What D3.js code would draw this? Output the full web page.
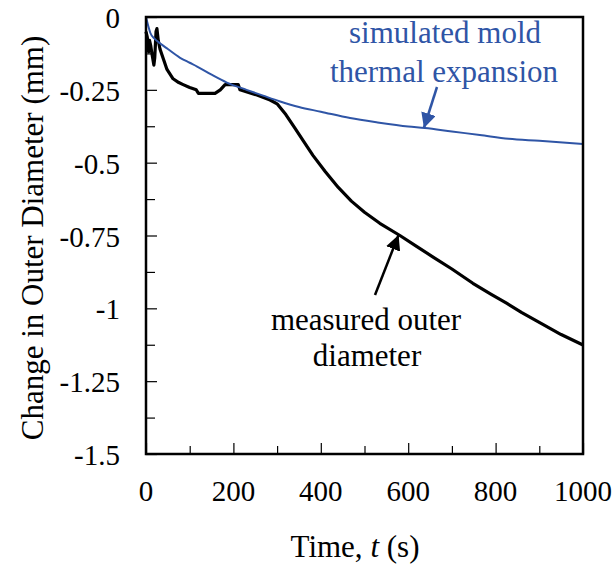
<!DOCTYPE html>
<html>
<head>
<meta charset="utf-8">
<script src="https://cdnjs.cloudflare.com/ajax/libs/d3/7.8.5/d3.min.js"></script>
<style>
  body { margin: 0; background: white; }
  svg text, svg tspan { font-family: "Liberation Serif", "Times New Roman", serif !important; }
</style>
</head>
<body>
<div id="chart"></div>
<script>

// measured outer diameter (black)
var measTime = [0, 3, 6, 8, 11, 14, 18, 20, 23, 25, 28, 32, 40, 48, 62, 75, 85, 100, 115, 120, 158, 170, 181, 211, 215, 254, 284, 300, 320, 340, 360, 382, 410, 440, 470, 500, 535, 581, 620, 657, 700, 748, 790, 826, 860, 902, 950, 1000]
var measVals = [-0.05, -0.07, -0.12, -0.08, -0.10, -0.13, -0.165, -0.14, -0.05, -0.04, -0.08, -0.11, -0.145, -0.18, -0.212, -0.225, -0.232, -0.242, -0.25, -0.262, -0.262, -0.25, -0.232, -0.232, -0.25, -0.268, -0.285, -0.298, -0.335, -0.38, -0.425, -0.475, -0.53, -0.585, -0.632, -0.67, -0.708, -0.75, -0.788, -0.824, -0.865, -0.914, -0.952, -0.983, -1.015, -1.05, -1.09, -1.126]

// simulated mold thermal expansion (blue)
var simTime = [0, 5, 10, 20, 32, 50, 78, 100, 117, 150, 185, 230, 268, 307, 350, 400, 467, 530, 600, 638, 700, 764, 830, 900, 1000]
var simVals = [0, -0.03, -0.055, -0.075, -0.09, -0.11, -0.14, -0.157, -0.17, -0.198, -0.225, -0.25, -0.27, -0.29, -0.309, -0.325, -0.347, -0.362, -0.376, -0.381, -0.393, -0.405, -0.418, -0.425, -0.436]

var xTicks = [0, 200, 400, 600, 800, 1000]
var yTicks = [0, -0.25, -0.5, -0.75, -1, -1.25, -1.5]
var yTickLabels = ["0", "-0.25", "-0.5", "-0.75", "-1", "-1.25", "-1.5"]

var margin = {top: 17, right: 33, bottom: 119, left: 146},
  width = 616 - margin.left - margin.right,
  height = 573 - margin.top - margin.bottom;

var blue = "#2f55a6";
var serif = "'Liberation Serif'";

var svg = d3.select("#chart").append("svg")
            .attr("width", 616).attr("height", 573)
          .append("g")
            .attr("transform", "translate(" + margin.left + "," + margin.top + ")");

var x = d3.scaleLinear().domain([0, 1000]).range([0, width]);
var y = d3.scaleLinear().domain([-1.5, 0]).range([height, 0]);

// minor ticks (inward)
svg.append("g")
   .attr("transform", "translate(0," + height + ")")
   .call(d3.axisTop(x).tickValues(d3.range(100, 1000, 200)).tickSize(8).tickFormat(""))
   .call(function(g) { g.select(".domain").remove() })
   .selectAll("line").attr("stroke-width", 1.2);

svg.append("g")
   .call(d3.axisRight(y).tickValues(d3.range(-1.375, 0, 0.25)).tickSize(9).tickFormat(""))
   .call(function(g) { g.select(".domain").remove() })
   .selectAll("line").attr("stroke-width", 1.2);

// major ticks
var xAxis = svg.append("g")
   .attr("transform", "translate(0," + height + ")")
   .call(d3.axisTop(x).tickValues(xTicks).tickSize(11).tickFormat(""));
xAxis.select(".domain").remove();
xAxis.selectAll("line").attr("stroke-width", 1.2);

var yAxis = svg.append("g")
   .call(d3.axisRight(y).tickValues(yTicks).tickSize(11).tickFormat(""));
yAxis.select(".domain").remove();
yAxis.selectAll("line").attr("stroke-width", 1.2);

// tick labels
svg.selectAll(".xlab")
   .data(xTicks).enter()
   .append("text")
   .attr("class", "xlab")
   .attr("x", function(d) { return x(d) })
   .attr("y", height + 47)
   .attr("text-anchor", "middle")
   .style("font-family", serif)
   .style("font-size", "29px")
   .text(function(d) { return d });

svg.selectAll(".ylab")
   .data(yTicks).enter()
   .append("text")
   .attr("class", "ylab")
   .attr("x", -26)
   .attr("y", function(d) { return y(d) + 11 })
   .attr("text-anchor", "end")
   .style("font-family", serif)
   .style("font-size", "29px")
   .text(function(d, i) { return yTickLabels[i] });

// lines
var simData = simTime.map(function(t, i) { return [t, simVals[i]] });
var measData = measTime.map(function(t, i) { return [t, measVals[i]] });

var line = d3.line()
   .x(function(d) { return x(d[0]) })
   .y(function(d) { return y(d[1]) });

svg.append("path")
   .datum(measData)
   .attr("d", line)
   .attr("fill", "none")
   .attr("stroke", "black")
   .attr("stroke-width", 3.2)
   .attr("stroke-linejoin", "round");

svg.append("path")
   .datum(simData)
   .attr("d", line.curve(d3.curveMonotoneX))
   .attr("fill", "none")
   .attr("stroke", blue)
   .attr("stroke-width", 2);

// frame
svg.append("rect")
   .attr("width", width).attr("height", height)
   .attr("fill", "none")
   .attr("stroke", "black")
   .attr("stroke-width", 2.5);

// axis titles
svg.append("text")
   .attr("x", 355 - margin.left)
   .attr("y", 557 - margin.top)
   .attr("text-anchor", "middle")
   .style("font-family", serif)
   .style("font-size", "31px")
   .html("Time, <tspan font-style='italic'>t</tspan> (s)");

svg.append("text")
   .attr("transform", "translate(" + (43 - margin.left) + "," + (238 - margin.top) + ") rotate(-90)")
   .attr("text-anchor", "middle")
   .style("font-family", serif)
   .style("font-size", "31px")
   .text("Change in Outer Diameter (mm)");

// annotations
var defs = svg.append("defs");
function arrowHead(id, col) {
  defs.append("marker")
      .attr("id", id)
      .attr("viewBox", "0 0 10 10")
      .attr("refX", 10).attr("refY", 5)
      .attr("markerWidth", 6).attr("markerHeight", 6)
      .attr("markerUnits", "strokeWidth")
      .attr("orient", "auto")
    .append("path")
      .attr("d", "M0,0 L10,5 L0,10 Z")
      .attr("fill", col);
}
arrowHead("ab", blue);
arrowHead("ak", "black");

svg.append("line")
   .attr("x1", 437 - margin.left).attr("y1", 87 - margin.top)
   .attr("x2", x(636)).attr("y2", y(-0.381))
   .attr("stroke", blue).attr("stroke-width", 2.5)
   .attr("marker-end", "url(#ab)");

svg.append("line")
   .attr("x1", 375 - margin.left).attr("y1", 295 - margin.top)
   .attr("x2", x(578)).attr("y2", y(-0.748))
   .attr("stroke", "black").attr("stroke-width", 2.5)
   .attr("marker-end", "url(#ak)");

svg.append("text")
   .attr("x", 445 - margin.left).attr("y", 43 - margin.top)
   .attr("text-anchor", "middle")
   .attr("fill", blue)
   .style("font-family", serif)
   .style("font-size", "31px")
   .text("simulated mold");
svg.append("text")
   .attr("x", 444 - margin.left).attr("y", 82 - margin.top)
   .attr("text-anchor", "middle")
   .attr("fill", blue)
   .style("font-family", serif)
   .style("font-size", "31px")
   .text("thermal expansion");

svg.append("text")
   .attr("x", 366 - margin.left).attr("y", 330 - margin.top)
   .attr("text-anchor", "middle")
   .style("font-family", serif)
   .style("font-size", "31px")
   .text("measured outer");
svg.append("text")
   .attr("x", 367 - margin.left).attr("y", 366 - margin.top)
   .attr("text-anchor", "middle")
   .style("font-family", serif)
   .style("font-size", "31px")
   .text("diameter");

</script>
</body>
</html>
